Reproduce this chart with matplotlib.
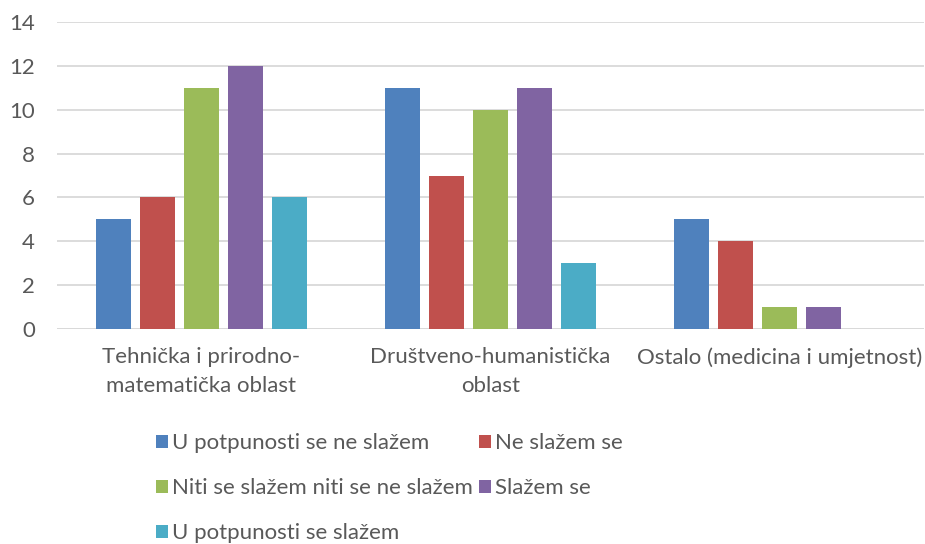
import matplotlib.pyplot as plt
import numpy as np

plt.rcParams['font.family'] = ['Lato', 'DejaVu Sans']

categories = ['Tehnička i prirodno-\nmatematička oblast',
              'Društveno-humanistička\noblast',
              'Ostalo (medicina i umjetnost)']
series_names = ['U potpunosti se ne slažem', 'Ne slažem se',
                'Niti se slažem niti se ne slažem', 'Slažem se',
                'U potpunosti se slažem']
u_potpunosti_ne = [5, 11, 5]
ne_slazem = [6, 7, 4]
niti_niti = [11, 10, 1]
slazem = [12, 11, 1]
u_potpunosti_da = [6, 3, 0]
values = [u_potpunosti_ne, ne_slazem, niti_niti, slazem, u_potpunosti_da]
colors = ['#4F81BD', '#C0504D', '#9BBB59', '#8064A2', '#4BACC6']

text_col = '#595959'
grid_col = '#D9D9D9'
fs = 16

fig = plt.figure(figsize=(9.25, 5.44), dpi=100)
ax = fig.add_axes([57 / 925, 1 - 329 / 544, 867 / 925, 307 / 544])

x = np.arange(len(categories))
pitch = 0.153
width = 0.121
handles = []
for i, (vals, c) in enumerate(zip(values, colors)):
    b = ax.bar(x + (i - 2) * pitch, vals, width, color=c, zorder=3,
               label=series_names[i])
    handles.append(b)

ax.set_xlim(-0.5, 2.5)
ax.set_ylim(0, 14)
ax.set_yticks(range(0, 15, 2))
ax.grid(axis='y', color=grid_col, linewidth=1.3, zorder=0)
for s in ax.spines.values():
    s.set_visible(False)
ax.axhline(0, color=grid_col, linewidth=1.3, zorder=1)
ax.tick_params(length=0, labelsize=fs, colors=text_col)
ax.tick_params(axis='y', pad=16)
ax.tick_params(axis='x', pad=13)
ax.set_xticks(x)
ax.set_xticklabels(categories, linespacing=1.55)

order = [0, 2, 4, 1, 3]
leg = fig.legend([handles[i] for i in order], [series_names[i] for i in order],
                 ncol=2, loc='upper left', bbox_to_anchor=(145 / 925, 1 - 422 / 544),
                 frameon=False, fontsize=fs, labelcolor=text_col,
                 handlelength=0.55, handleheight=0.55, handletextpad=0.15,
                 columnspacing=0.3, labelspacing=1.13, borderpad=0)

fig.savefig('out.png', dpi=100)
